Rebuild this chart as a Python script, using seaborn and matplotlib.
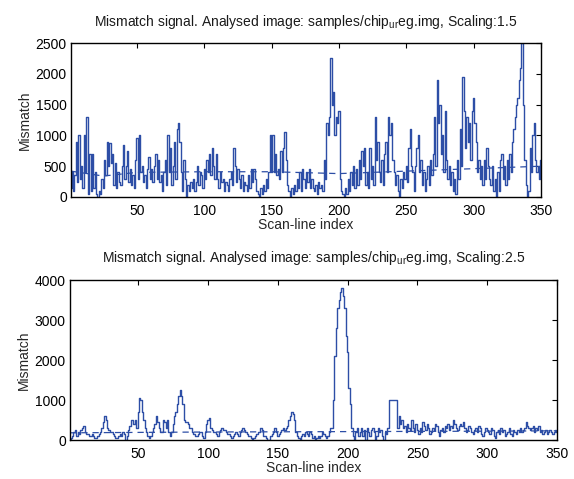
import numpy as np
import pandas as pd
import matplotlib
matplotlib.use("Agg")
import matplotlib.pyplot as plt
import seaborn as sns

# ---------------- data ----------------
top_values = [
    150, 400, 100, 350, 900, 250, 1000, 300, 500, 150,
    1000, 400, 1300, 50, 700, 100, 700, 150, 400, 50,
    0, 100, 50, 300, 150, 600, 350, 900, 500, 880,
    550, 700, 200, 550, 150, 400, 250, 200, 500, 850,
    300, 500, 750, 250, 450, 200, 350, 150, 600, 950,
    300, 1000, 400, 500, 250, 350, 150, 450, 650, 300,
    450, 250, 500, 700, 300, 600, 250, 350, 100, 400,
    600, 200, 1000, 400, 800, 200, 500, 900, 300, 1100,
    1200, 900, 400, 100, 600, 300, 0, 200, 100, 250,
    150, 300, 100, 250, 500, 200, 400, 350, 150, 450,
    300, 600, 400, 700, 350, 800, 500, 300, 700, 300,
    150, 400, 250, 300, 100, 250, 200, 100, 300, 400,
    200, 800, 500, 250, 450, 300, 150, 350, 100, 250,
    200, 100, 350, 150, 450, 250, 450, 300, 100, 50,
    0, 150, 50, 200, 100, 300, 150, 400, 1000, 400,
    1000, 400, 700, 350, 450, 300, 750, 400, 800, 1050,
    600, 200, 100, 0, 150, 50, 200, 100, 300, 150,
    400, 100, 450, 300, 150, 400, 250, 450, 150, 300,
    150, 100, 200, 50, 250, 150, 200, 100, 600, 300,
    1200, 1000, 1300, 2250, 1500, 1700, 1000, 1300, 1200, 1400,
    300, 100, 50, 0, 150, 50, 300, 100, 400, 200,
    500, 150, 450, 200, 600, 300, 750, 500, 800, 200,
    400, 150, 800, 300, 500, 200, 1300, 600, 900, 400,
    250, 600, 200, 700, 900, 400, 1300, 1000, 1200, 600,
    400, 200, 350, 100, 0, 300, 150, 400, 300, 500,
    250, 800, 1100, 500, 400, 100, 500, 800, 1000, 400,
    600, 200, 400, 100, 300, 500, 200, 600, 350, 700,
    1300, 500, 1900, 1200, 1500, 700, 1000, 400, 1400, 600,
    300, 500, 200, 400, 100, 300, 50, 600, 300, 1100,
    500, 1950, 1400, 800, 1300, 900, 1200, 600, 1400, 1600,
    1200, 900, 400, 600, 300, 500, 200, 600, 300, 800,
    500, 300, 200, 500, 100, 300, 0, 400, 100, 600,
    700, 300, 500, 200, 600, 300, 700, 400, 900, 1100,
    1300, 1500, 1600, 1900, 2100, 2500, 1500, 600, 200, 0,
    100, 800, 400, 1000, 1200, 600, 400, 500, 300, 600,
]

bottom_values = [
    0, 50, 100, 200, 250, 100, 200, 150, 250, 300,
    350, 200, 150, 150, 100, 100, 150, 100, 50, 50,
    100, 150, 200, 300, 450, 600, 500, 300, 250, 200,
    200, 150, 100, 50, 50, 100, 150, 100, 200, 150,
    0, 100, 250, 350, 500, 500, 400, 500, 300, 700,
    1050, 1000, 700, 500, 300, 200, 100, 50, 100, 200,
    300, 400, 600, 450, 300, 200, 200, 500, 450, 300,
    500, 200, 100, 200, 400, 600, 700, 900, 1100, 1250,
    1100, 900, 500, 450, 450, 400, 300, 300, 200, 150,
    100, 100, 150, 200, 200, 100, 50, 200, 400, 500,
    550, 300, 250, 200, 200, 150, 100, 200, 250, 300,
    250, 250, 200, 150, 150, 100, 50, 100, 150, 200,
    150, 100, 200, 250, 300, 250, 200, 150, 100, 100,
    50, 0, 50, 100, 150, 200, 200, 300, 250, 100,
    100, 50, 0, 0, 100, 150, 200, 300, 200, 100,
    150, 200, 250, 300, 250, 300, 350, 500, 600, 700,
    650, 500, 200, 100, 50, 0, 100, 150, 100, 200,
    150, 100, 200, 150, 50, 100, 0, 50, 100, 50,
    100, 200, 150, 100, 50, 100, 200, 300, 300, 1000,
    2100, 2800, 3300, 3500, 3700, 3800, 3600, 3300, 2600, 2200,
    1300, 900, 300, 100, 0, 200, 300, 100, 200, 300,
    100, 250, 0, 300, 200, 100, 250, 300, 200, 0,
    100, 300, 200, 250, 100, 0, 200, 150, 300, 1000,
    1000, 1000, 1000, 1000, 1000, 300, 600, 400, 500, 300,
    350, 200, 400, 300, 250, 500, 300, 200, 400, 250,
    150, 300, 200, 450, 350, 250, 400, 300, 150, 200,
    300, 250, 400, 350, 200, 100, 250, 300, 200, 350,
    300, 400, 250, 350, 300, 500, 400, 300, 250, 350,
    400, 350, 450, 300, 200, 250, 350, 300, 200, 150,
    250, 300, 200, 350, 300, 150, 100, 200, 300, 250,
    200, 150, 300, 250, 100, 50, 200, 250, 150, 300,
    200, 250, 100, 150, 200, 300, 150, 100, 250, 200,
    150, 250, 200, 300, 200, 250, 300, 450, 350, 300,
    250, 300, 350, 200, 300, 250, 350, 200, 250, 150,
    200, 250, 150, 200, 250, 200, 150, 200, 250, 200,
]

top_thr_x = [1, 25, 50, 100, 150, 200, 250, 300, 350]
top_thr_y = [420, 340, 400, 410, 410, 380, 420, 460, 500]
bottom_thr_x = [1, 100, 200, 300, 350]
bottom_thr_y = [180, 200, 210, 220, 230]

x_ticks = [50, 100, 150, 200, 250, 300, 350]
top_yticks = [0, 500, 1000, 1500, 2000, 2500]
bottom_yticks = [0, 1000, 2000, 3000, 4000]
titles = [
    r"Mismatch signal. Analysed image: samples/chip$_{\mathregular{ur}}$eg.img, Scaling:1.5",
    r"Mismatch signal. Analysed image: samples/chip$_{\mathregular{ur}}$eg.img, Scaling:2.5",
]
xlabel = "Scan-line index"
ylabel = "Mismatch"

# ---------------- style ----------------
sns.set_style("white")
plt.rcParams["font.family"] = ["Liberation Sans", "DejaVu Sans"]
plt.rcParams["font.size"] = 10
plt.rcParams["mathtext.default"] = "regular"
plt.rcParams["mathtext.fontset"] = "custom"
plt.rcParams["mathtext.rm"] = "Liberation Sans"

line_color = "#2d4ea6"
FS = 10

fig = plt.figure(figsize=(5.74, 4.79), dpi=100)
ax1 = fig.add_axes([71 / 574, 1 - 197 / 479, (541 - 71) / 574, (197 - 43) / 479])
ax2 = fig.add_axes([70 / 574, 1 - 440 / 479, (557 - 70) / 574, (440 - 280) / 479])

df_top = pd.DataFrame({"idx": np.arange(1, len(top_values) + 1), "val": top_values})
df_bot = pd.DataFrame({"idx": np.arange(1, len(bottom_values) + 1), "val": bottom_values})
df_top_thr = pd.DataFrame({"idx": top_thr_x, "val": top_thr_y})
df_bot_thr = pd.DataFrame({"idx": bottom_thr_x, "val": bottom_thr_y})

for ax, df, dthr, yt, ttl, tpad in [
    (ax1, df_top, df_top_thr, top_yticks, titles[0], 12),
    (ax2, df_bot, df_bot_thr, bottom_yticks, titles[1], 13),
]:
    sns.lineplot(data=df, x="idx", y="val", ax=ax, color=line_color,
                 linewidth=1.0, drawstyle="steps-mid", estimator=None)
    sns.lineplot(data=dthr, x="idx", y="val", ax=ax, color=line_color,
                 linewidth=0.9, linestyle=(0, (5, 4)), estimator=None)
    ax.set_xlim(1, 350)
    ax.set_ylim(yt[0], yt[-1])
    ax.set_xticks(x_ticks)
    ax.set_yticks(yt)
    ax.tick_params(direction="in", length=3.5, width=0.8, top=True, right=True,
                   labelsize=FS, colors="black")
    ax.tick_params(axis="x", pad=5)
    ax.tick_params(axis="y", pad=3)
    for s in ax.spines.values():
        s.set_linewidth(1.0)
        s.set_color("black")
    ax.set_xlabel(xlabel, fontsize=FS, labelpad=0)
    ax.set_ylabel(ylabel, fontsize=FS, labelpad=3)
    ax.set_title(ttl, fontsize=FS, pad=tpad, color="#1a1a1a")
    ax.grid(False)

fig.savefig("out.png", dpi=100, facecolor="white")
